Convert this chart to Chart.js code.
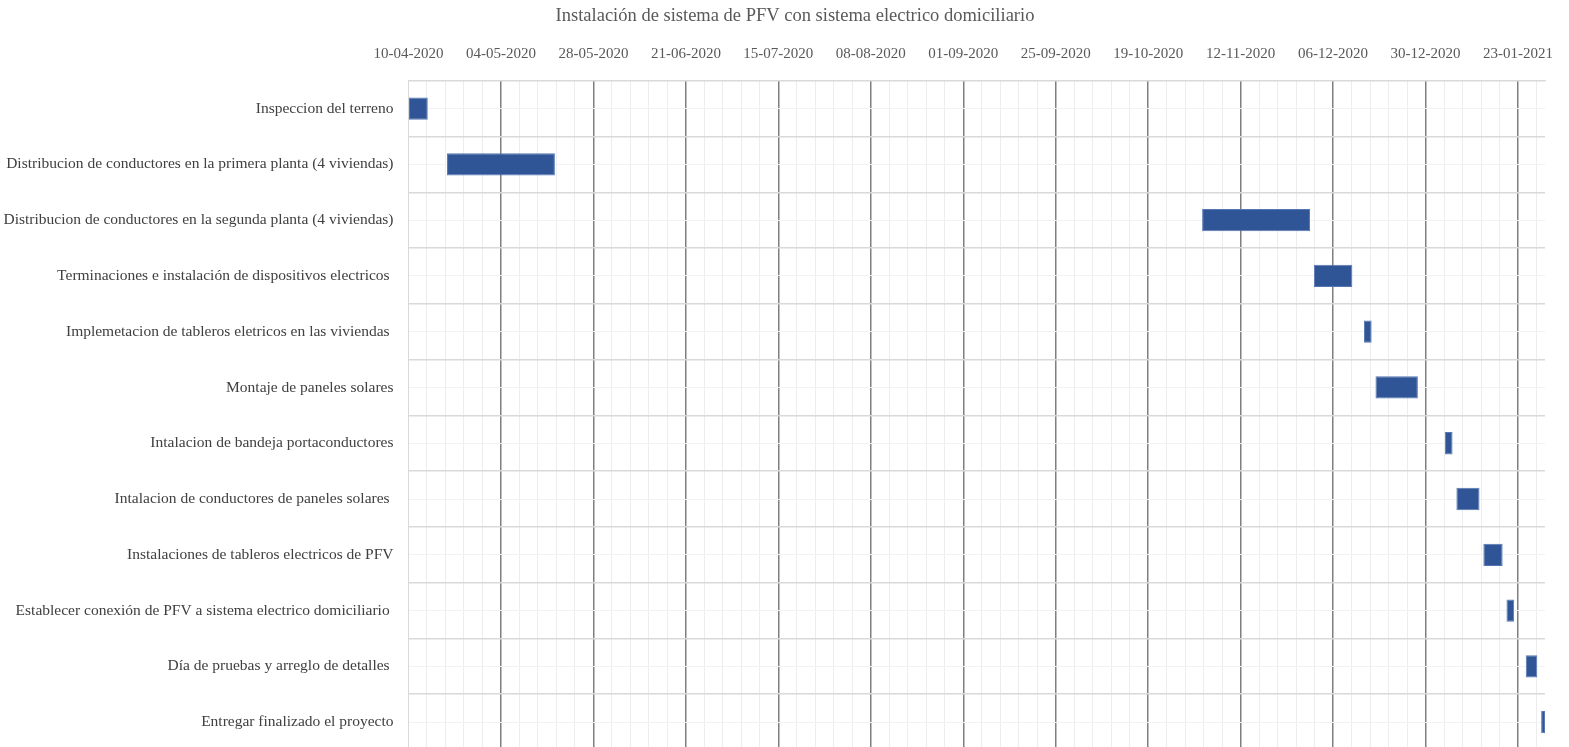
<!DOCTYPE html>
<html lang="es">

<head>
    <meta charset="UTF-8">
    <title>Gantt PFV</title>
    <script src="https://cdn.jsdelivr.net/npm/chart.js"></script>
    <style>
        html, body { margin: 0; padding: 0; background: #fff; overflow: hidden; }
        .wrap { width: 1569px; height: 750px; position: relative; }
    </style>
</head>

<body>
    <div class="wrap">
        <canvas id="ganttChart"></canvas>
    </div>

    <script>
        // === Data ===
        const tasks = [
            'Inspeccion del terreno',
            'Distribucion de conductores en la primera planta (4 viviendas)',
            'Distribucion de conductores en la segunda planta (4 viviendas)',
            'Terminaciones e instalación de dispositivos electricos ',
            'Implemetacion de tableros eletricos en las viviendas ',
            'Montaje de paneles solares',
            'Intalacion de bandeja portaconductores',
            'Intalacion de conductores de paneles solares ',
            'Instalaciones de tableros electricos de PFV',
            'Establecer conexión de PFV a sistema electrico domiciliario ',
            'Día de pruebas y arreglo de detalles ',
            'Entregar finalizado el proyecto'
        ];
        const startDates = [
            '2020-04-10', '2020-04-20', '2020-11-02', '2020-12-01',
            '2020-12-14', '2020-12-17', '2021-01-04', '2021-01-07',
            '2021-01-14', '2021-01-20', '2021-01-25', '2021-01-29'
        ];
        const durations = [5, 28, 28, 10, 2, 11, 2, 6, 5, 2, 3, 1];

        const axisStart = '2020-04-10';
        const axisDays = 295;
        const majorStep = 24;
        const minorStep = 4.8;

        const DAY = 86400000;
        const t0 = Date.parse(axisStart);
        const toDay = s => (Date.parse(s) - t0) / DAY;
        const fmt = d => {
            const dt = new Date(t0 + Math.round(d) * DAY);
            const p = n => String(n).padStart(2, '0');
            return p(dt.getUTCDate()) + '-' + p(dt.getUTCMonth() + 1) + '-' + dt.getUTCFullYear();
        };

        const bars = startDates.map((s, i) => [toDay(s), toDay(s) + durations[i]]);
        const isMajor = v => Math.abs(v / majorStep - Math.round(v / majorStep)) < 1e-6;

        const font = 'Liberation Serif, Times New Roman, serif';

        // title is centred a bit right of the canvas centre in the original
        const shiftTitle = {
            id: 'shiftTitle',
            afterLayout(chart) {
                if (chart.titleBlock) chart.titleBlock.left += 43;
            }
        };

        new Chart(document.getElementById('ganttChart'), {
            type: 'bar',
            data: {
                labels: tasks,
                datasets: [{
                    label: 'Duración',
                    data: bars,
                    backgroundColor: '#2f5597',
                    borderColor: '#5577b3',
                    borderWidth: 1,
                    borderSkipped: false,
                    barPercentage: 1,
                    categoryPercentage: 0.4
                }]
            },
            options: {
                indexAxis: 'y',
                responsive: true,
                maintainAspectRatio: false,
                animation: false,
                layout: { padding: { left: 2, right: 24, top: 0, bottom: 0 } },
                plugins: {
                    legend: { display: false },
                    tooltip: { enabled: false },
                    title: {
                        display: true,
                        text: 'Instalación de sistema de PFV con sistema electrico domiciliario',
                        color: '#595959',
                        font: { family: font, size: 18.5, weight: 'normal' },
                        padding: { top: 5, bottom: 0 }
                    }
                },
                scales: {
                    x: {
                        type: 'linear',
                        position: 'top',
                        min: 0,
                        max: axisDays,
                        border: { display: true, color: '#d9d9d9' },
                        grid: {
                            drawTicks: false,
                            color: ctx => (ctx.index === 0 ? '#d9d9d9' : (isMajor(ctx.tick.value) ? '#7f7f7f' : '#ededed')),
                            lineWidth: ctx => (ctx.index !== 0 && isMajor(ctx.tick.value) ? 1.5 : 1)
                        },
                        ticks: {
                            stepSize: minorStep,
                            includeBounds: false,
                            autoSkip: false,
                            maxRotation: 0,
                            padding: 18,
                            color: '#595959',
                            font: { family: font, size: 15 },
                            callback: v => (isMajor(v) ? fmt(v) : '')
                        },
                        afterFit: scale => {
                            scale.height = 53.5;
                            scale.paddingLeft = 0;
                            scale.paddingRight = 0;
                        }
                    },
                    y: {
                        type: 'category',
                        position: 'left',
                        offset: true,
                        border: { display: true, color: '#d9d9d9' },
                        grid: { offset: true, drawTicks: false, color: '#d9d9d9', lineWidth: 1.5 },
                        ticks: {
                            padding: 15,
                            color: '#404040',
                            font: { family: font, size: 15.5 }
                        },
                        afterFit: scale => {
                            scale.width = 406.5;
                            scale.paddingTop = 0;
                            scale.paddingBottom = 0;
                        }
                    },
                    yMinor: {
                        type: 'category',
                        position: 'left',
                        labels: tasks,
                        offset: true,
                        border: { display: false },
                        grid: { offset: false, drawTicks: false, color: '#f2f2f2' },
                        ticks: { display: false },
                        afterFit: scale => {
                            scale.width = 0;
                            scale.paddingTop = 0;
                            scale.paddingBottom = 0;
                        }
                    }
                }
            },
            plugins: [shiftTitle]
        });
    </script>

</body>

</html>
